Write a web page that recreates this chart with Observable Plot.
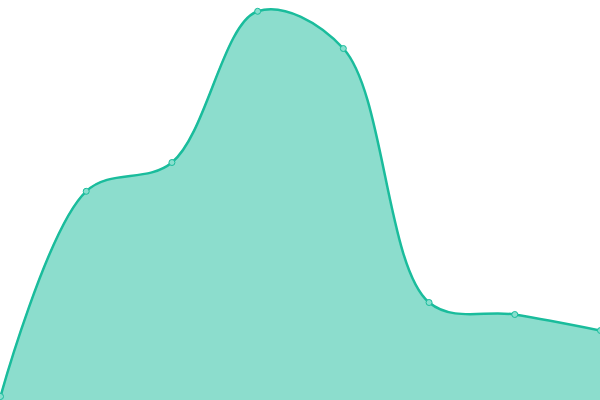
<!DOCTYPE html>
<html>
<head>
<meta charset="utf-8">
<script src="https://cdn.jsdelivr.net/npm/d3@7"></script>
<script src="https://cdn.jsdelivr.net/npm/@observablehq/plot@0.6"></script>
<style>
  html, body { margin: 0; padding: 0; background: #fff; }
  #chart svg { display: block; }
</style>
</head>
<body>
<div id="chart"></div>
<script>
const positions = [0, 1, 2, 3, 4, 5, 6, 7];
const values = [1, 52.3, 59.5, 97.3, 88, 24.5, 21.5, 17.5];

const data = positions.map((p, i) => ({x: p, y: values[i]}));

const chart = Plot.plot({
  width: 600,
  height: 400,
  margin: 0,
  x: {domain: [0, 7], axis: null},
  y: {domain: [0, 100], axis: null},
  marks: [
    Plot.areaY(data, {x: "x", y: "y", curve: "catmull-rom", fill: "#1abc9c", fillOpacity: 0.5}),
    Plot.lineY(data, {x: "x", y: "y", curve: "catmull-rom", stroke: "#1abc9c", strokeWidth: 2.5}),
    Plot.dot(data, {x: "x", y: "y", r: 3, fill: "#88dfce", stroke: "#1abc9c", strokeWidth: 1})
  ]
});
chart.style.overflow = "visible";
document.getElementById("chart").appendChild(chart);
</script>
</body>
</html>
